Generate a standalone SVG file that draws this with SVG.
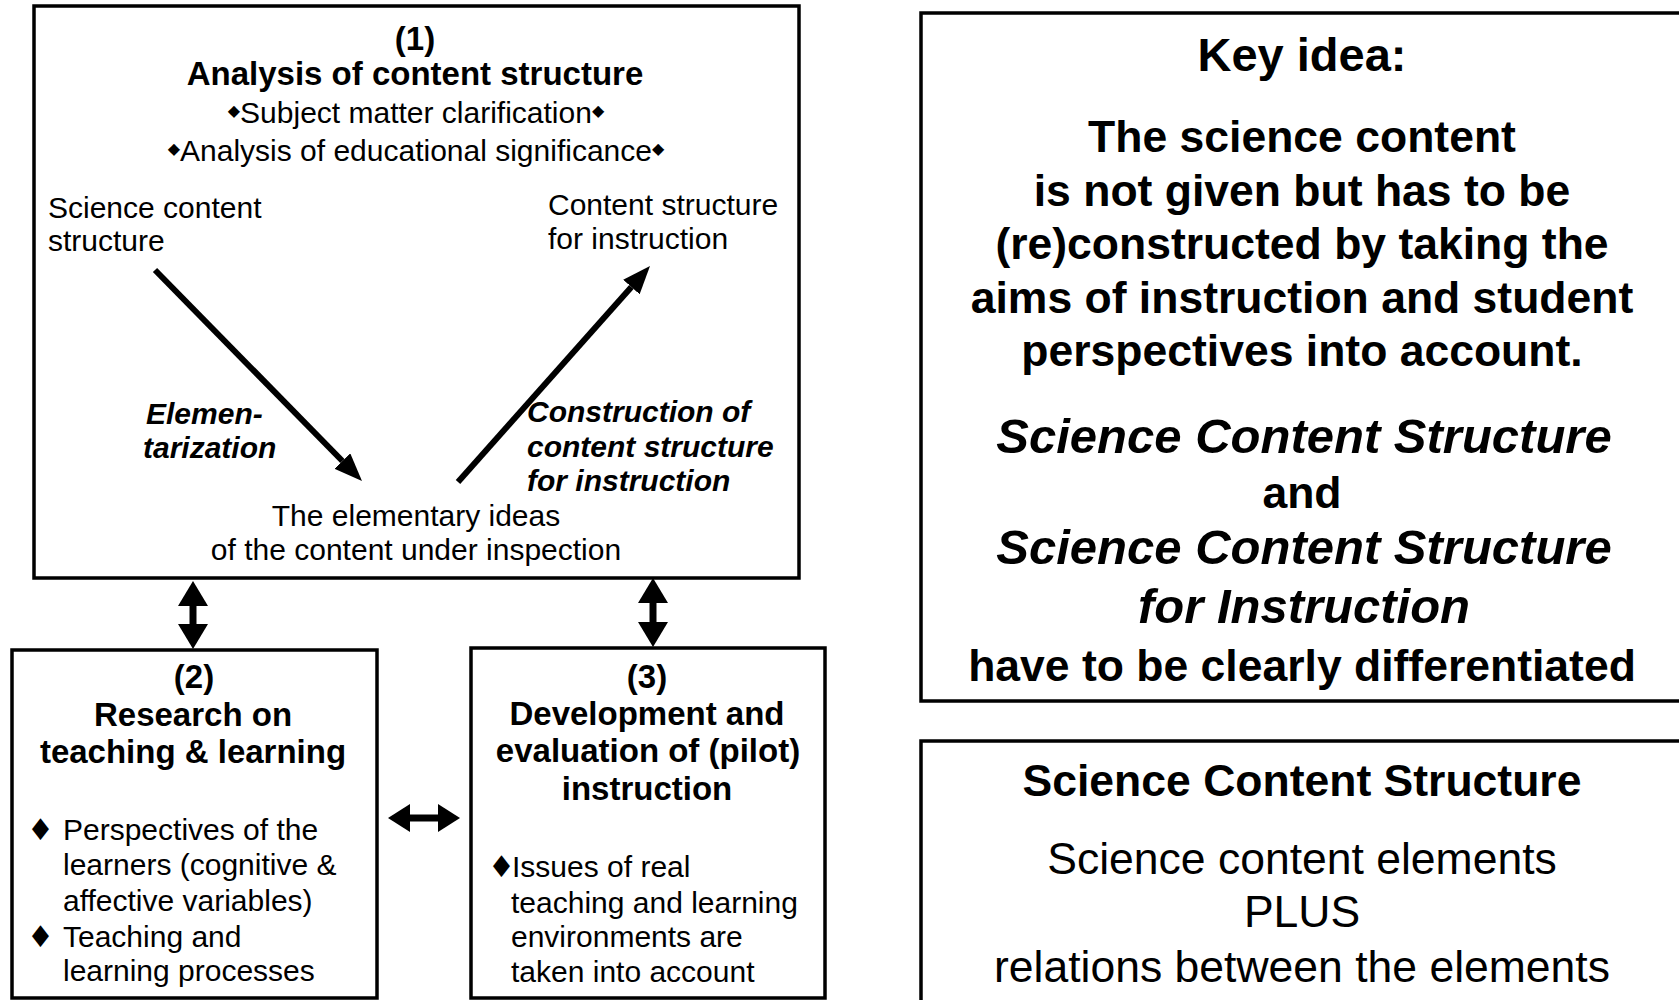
<svg xmlns="http://www.w3.org/2000/svg" width="1679" height="1000" viewBox="0 0 1679 1000">
<style>
.t{font-family:"Liberation Sans",Arial,sans-serif;fill:#000}
.b{font-weight:bold}
.i{font-style:italic}
.c{text-anchor:middle}
.s30{font-size:30px}
.s33{font-size:33px}
.s44{font-size:44.5px}
.box{fill:#fff;stroke:#000;stroke-width:3.5}
.dm{font-family:"DejaVu Sans",sans-serif;font-size:16px}
.bul{font-family:"DejaVu Sans",sans-serif;font-size:30px}
.shaft{stroke:#000;fill:none}
</style>
<defs>
<marker id="ahd" viewBox="0 0 28 22" refX="0" refY="11" markerWidth="28" markerHeight="22" markerUnits="userSpaceOnUse" orient="auto-start-reverse"><path d="M0,0 L28,11 L0,22 z" fill="#000"/></marker>
<marker id="ahv" viewBox="0 0 25 30" refX="0" refY="15" markerWidth="25" markerHeight="30" markerUnits="userSpaceOnUse" orient="auto-start-reverse"><path d="M0,0 L25,15 L0,30 z" fill="#000"/></marker>
<marker id="ahh" viewBox="0 0 22 28" refX="0" refY="14" markerWidth="22" markerHeight="28" markerUnits="userSpaceOnUse" orient="auto-start-reverse"><path d="M0,0 L22,14 L0,28 z" fill="#000"/></marker>
</defs>
<rect width="1679" height="1000" fill="#fff"/>

<g id="node1">
<rect class="box" x="34" y="6" width="765" height="572"/>
<text class="t b c s33" x="415" y="50">(1)</text>
<text class="t b c s33" x="415" y="85">Analysis of content structure</text>
<text class="t c s30" x="416" y="123"><tspan class="dm" dy="-7">◆</tspan><tspan dy="7">Subject matter clarification</tspan><tspan class="dm" dy="-7">◆</tspan></text>
<text class="t c s30" x="416" y="161"><tspan class="dm" dy="-7">◆</tspan><tspan dy="7">Analysis of educational significance</tspan><tspan class="dm" dy="-7">◆</tspan></text>
<text class="t s30" x="48" y="218">Science content</text>
<text class="t s30" x="48" y="251">structure</text>
<text class="t s30" x="548" y="215">Content structure</text>
<text class="t s30" x="548" y="249">for instruction</text>
<text class="t b i s30" x="146" y="424">Elemen-</text>
<text class="t b i s30" x="143" y="458">tarization</text>
<text class="t b i s30" x="527" y="422">Construction of</text>
<text class="t b i s30" x="527" y="457">content structure</text>
<text class="t b i s30" x="527" y="491">for instruction</text>
<text class="t c s30" x="416" y="526">The elementary ideas</text>
<text class="t c s30" x="416" y="560">of the content under inspection</text>
</g>

<g id="node2">
<rect class="box" x="12" y="650" width="365" height="348"/>
<text class="t b c s33" x="194" y="688">(2)</text>
<text class="t b c s33" x="193" y="726">Research on</text>
<text class="t b c s33" x="193" y="763">teaching &amp; learning</text>
<text class="bul" x="27" y="840">♦</text>
<text class="t s30" x="63" y="840">Perspectives of the</text>
<text class="t s30" x="63" y="875">learners (cognitive &amp;</text>
<text class="t s30" x="63" y="911">affective variables)</text>
<text class="bul" x="27" y="947">♦</text>
<text class="t s30" x="63" y="947">Teaching and</text>
<text class="t s30" x="63" y="981">learning processes</text>
</g>

<g id="node3">
<rect class="box" x="471" y="648" width="354" height="350"/>
<text class="t b c s33" x="647" y="688">(3)</text>
<text class="t b c s33" x="647" y="725">Development and</text>
<text class="t b c s33" x="648" y="762">evaluation of (pilot)</text>
<text class="t b c s33" x="647" y="800">instruction</text>
<text class="bul" x="488" y="877">♦</text>
<text class="t s30" x="512" y="877">Issues of real</text>
<text class="t s30" x="511" y="913">teaching and learning</text>
<text class="t s30" x="511" y="947">environments are</text>
<text class="t s30" x="511" y="982">taken into account</text>
</g>

<g id="keyidea">
<rect class="box" x="921" y="13" width="800" height="688"/>
<text class="t b c" style="font-size:47px" x="1302" y="71">Key idea:</text>
<text class="t b c s44" x="1302" y="152">The science content</text>
<text class="t b c s44" x="1302" y="206">is not given but has to be</text>
<text class="t b c s44" x="1302" y="259">(re)constructed by taking the</text>
<text class="t b c s44" x="1302" y="313">aims of instruction and student</text>
<text class="t b c s44" x="1302" y="366">perspectives into account.</text>
<text class="t b i c" style="font-size:49px" x="1304" y="453">Science Content Structure</text>
<text class="t b c s44" x="1302" y="508">and</text>
<text class="t b i c" style="font-size:49px" x="1304" y="564">Science Content Structure</text>
<text class="t b i c" style="font-size:49px" x="1304" y="623">for Instruction</text>
<text class="t b c s44" x="1302" y="681">have to be clearly differentiated</text>
</g>

<g id="scs">
<rect class="box" x="921" y="741" width="800" height="300"/>
<text class="t b c s44" x="1302" y="796">Science Content Structure</text>
<text class="t c s44" x="1302" y="874">Science content elements</text>
<text class="t c s44" x="1302" y="927">PLUS</text>
<text class="t c s44" x="1302" y="982">relations between the elements</text>
</g>

<g id="connectors">
<line class="shaft" x1="155" y1="270" x2="342.4" y2="461" stroke-width="6" marker-end="url(#ahd)"/>
<line class="shaft" x1="458" y1="482" x2="631.4" y2="287" stroke-width="6" marker-end="url(#ahd)"/>
<line class="shaft" x1="193" y1="606" x2="193" y2="624" stroke-width="7" marker-start="url(#ahv)" marker-end="url(#ahv)"/>
<line class="shaft" x1="653" y1="603" x2="653" y2="622" stroke-width="7" marker-start="url(#ahv)" marker-end="url(#ahv)"/>
<line class="shaft" x1="410" y1="818" x2="438" y2="818" stroke-width="7" marker-start="url(#ahh)" marker-end="url(#ahh)"/>
</g>
</svg>
